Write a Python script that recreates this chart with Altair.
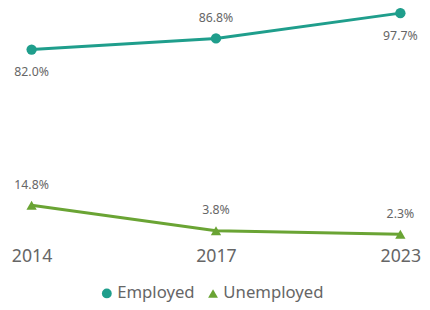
import altair as alt
import pandas as pd

years = ["2014", "2017", "2023"]
employed = [82.0, 86.8, 97.7]
unemployed = [14.8, 3.8, 2.3]
employed_label_side = ["below", "above", "below"]
unemployed_label_side = ["above", "above", "above"]

rows = []
for y, v, s in zip(years, employed, employed_label_side):
    rows.append({"year": y, "value": v, "series": "Employed", "side": s})
for y, v, s in zip(years, unemployed, unemployed_label_side):
    rows.append({"year": y, "value": v, "series": "Unemployed", "side": s})
df = pd.DataFrame(rows)
df["label"] = df["value"].map(lambda v: f"{v:.1f}%")

FONT = "Noto Sans"
colors = ["#1f9e8c", "#6aa434"]
series = ["Employed", "Unemployed"]

x = alt.X("year:O", sort=years, scale=alt.Scale(type="point", padding=0.064),
          axis=alt.Axis(title=None, labelAngle=0, domain=False, ticks=False, grid=False,
                        labelFontSize=18, labelColor="#666666", labelFont=FONT, labelPadding=8))
y = alt.Y("value:Q", scale=alt.Scale(domain=[0, 98], nice=False, zero=True), axis=None)

legend = alt.Legend(title=None, orient="none", legendX=80, legendY=277,
                    direction="horizontal", labelFontSize=17, labelColor="#666666",
                    labelFont=FONT, symbolSize=100, labelOffset=2, columnPadding=10,
                    symbolStrokeWidth=0)

color = alt.Color("series:N", scale=alt.Scale(domain=series, range=colors), legend=legend)
shape = alt.Shape("series:N", scale=alt.Scale(domain=series, range=["circle", "triangle-up"]), legend=legend)

base = alt.Chart(df)

line = base.mark_line(strokeWidth=3).encode(x=x, y=y, color=color)

points = base.mark_point(filled=True, size=110, opacity=1).encode(
    x=x, y=y, color=color, shape=shape)

text_above = base.transform_filter(alt.datum.side == "above").mark_text(
    dy=-21, fontSize=12.5, color="#666666", font=FONT).encode(x=x, y=y, text="label:N")
text_below = base.transform_filter(alt.datum.side == "below").mark_text(
    dy=23, fontSize=12.5, color="#666666", font=FONT).encode(x=x, y=y, text="label:N")

chart = alt.layer(line, points, text_above, text_below).properties(
    width=399, height=231,
    autosize=alt.AutoSizeParams(type="none"),
    padding={"left": 12, "top": 2, "right": 10, "bottom": 66},
).configure(font=FONT).configure_view(stroke=None)

chart.save("out.html", embed_options={"renderer": "svg", "actions": False})
